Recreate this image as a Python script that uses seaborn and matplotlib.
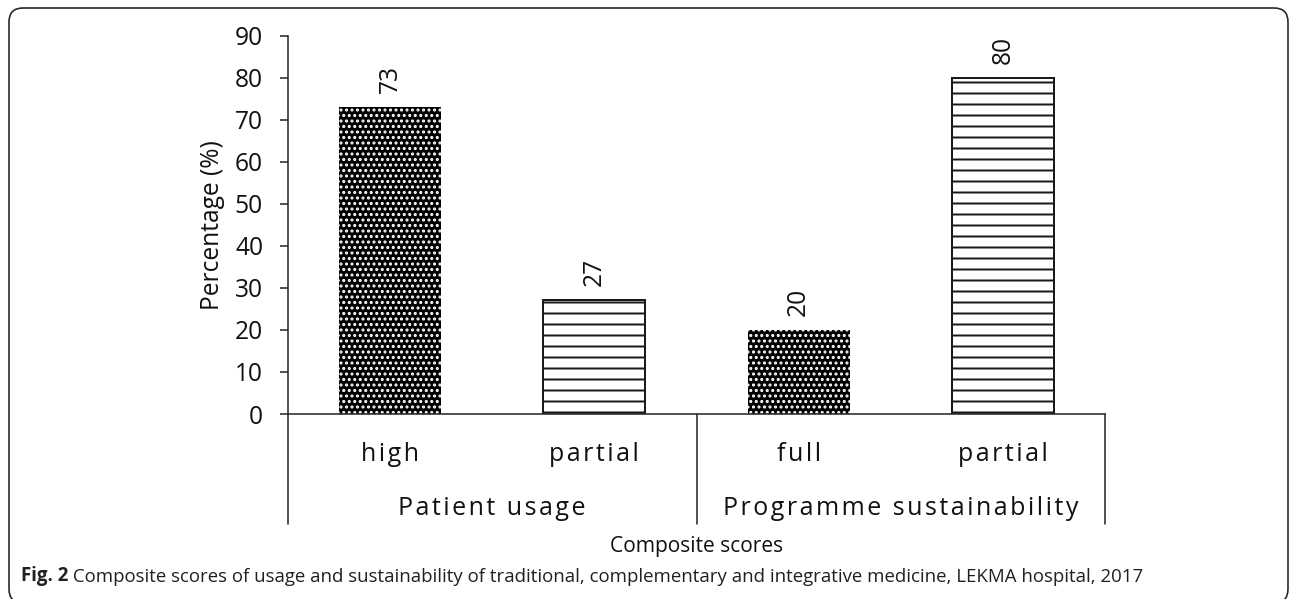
import pandas as pd
import matplotlib
matplotlib.use('Agg')
import matplotlib.pyplot as plt
import seaborn as sns
from matplotlib.patches import FancyBboxPatch
from matplotlib.lines import Line2D
from matplotlib.transforms import IdentityTransform, blended_transform_factory

# data
groups = ['Patient usage', 'Patient usage', 'Programme sustainability', 'Programme sustainability']
levels = ['high', 'partial', 'full', 'partial']
values = [73, 27, 20, 80]
fills = ['dots', 'lines', 'dots', 'lines']
yticks = list(range(0, 100, 10))
caption_bold = 'Fig. 2'
caption = (' Composite scores of usage and sustainability of traditional, complementary and '
           'integrative medicine, LEKMA hospital, 2017')

df = pd.DataFrame({'group': groups, 'level': levels, 'value': values, 'fill': fills})
df['key'] = df['group'] + ':' + df['level']

# dpi chosen so the hatch cells come out close to the original pattern spacing
DPI = 132
W, H = 1295, 599
def pt(px):
    return px * 72.0 / DPI

sns.set_theme(style='white')
plt.rcParams['font.family'] = ['Open Sans', 'DejaVu Sans']
plt.rcParams['hatch.linewidth'] = pt(2.0)

HAIR = '\u200a'
def spaced(s):
    return HAIR.join(s)

ink = '#2b2b2b'
fig = plt.figure(figsize=(W / DPI, H / DPI), dpi=DPI)
ax = fig.add_axes([288 / W, 1 - 414 / H, 817 / W, 378.5 / H])

sns.barplot(data=df, x='key', y='value', hue='fill',
            palette={'dots': 'black', 'lines': 'white'},
            width=0.5, dodge=False, legend=False, ax=ax)

for cont, lvl in zip(ax.containers, ['dots', 'lines']):
    for bar in cont:
        if lvl == 'dots':
            bar.set_facecolor('black')
            bar.set_edgecolor('white')
            bar.set_linewidth(0)
            bar.set_hatch('....')
        else:
            bar.set_facecolor('white')
            bar.set_edgecolor('#1a1a1a')
            bar.set_linewidth(pt(2.0))
            bar.set_hatch('--')
    ax.bar_label(cont, rotation=90, padding=pt(14), fontsize=pt(24.5), color='#111111')

ax.set_ylim(0, 90)
ax.set_xlim(-0.5, 3.5)
ax.set_yticks(yticks)
ax.set_xticks(range(len(levels)))
ax.set_xticklabels([spaced(l) for l in levels])
ax.tick_params(axis='y', direction='out', length=pt(8), width=pt(1.6), pad=pt(17),
               labelsize=pt(24.5), color=ink, left=True, labelcolor='#111111')
ax.tick_params(axis='x', length=0, pad=pt(28), labelsize=pt(25), labelcolor='#111111')
ax.set_xlabel('')
ax.set_ylabel('Percentage (%)', fontsize=pt(24.5), labelpad=pt(10), color='#111111')

for side in ['top', 'right']:
    ax.spines[side].set_visible(False)
for side in ['left', 'bottom']:
    ax.spines[side].set_color(ink)
    ax.spines[side].set_linewidth(pt(1.6))

# category dividers below the axis
trans = blended_transform_factory(ax.transData, ax.transAxes)
low = -110 / 378.5
xl = ax.get_xlim()
for xd in [xl[0], 1.5, xl[1]]:
    ax.add_line(Line2D([xd, xd], [0, low], transform=trans, color=ink,
                       lw=pt(1.6), clip_on=False))

# group labels
for g in dict.fromkeys(groups):
    pos = df.index[df['group'] == g].to_numpy().mean()
    ax.text(pos, -101 / 378.5, spaced(g), transform=trans, ha='center', va='baseline',
            fontsize=pt(25), color='#111111')

ax.text(1.5, -138 / 378.5, 'Composite scores', transform=trans, ha='center',
        va='baseline', fontsize=pt(21), color='#111111')

# caption
t1 = fig.text(21 / W, 1 - 581 / H, caption_bold, weight='bold',
              va='baseline', fontsize=pt(18.6), color='#231f20')
ax.annotate(caption, xy=(1, 0), xycoords=t1, va='bottom', ha='left',
            fontsize=pt(18.6), color='#231f20', annotation_clip=False)

# rounded frame
frame = FancyBboxPatch((9, -4), 1279, 595, boxstyle='round,pad=0,rounding_size=14',
                       transform=IdentityTransform(), fill=False, lw=pt(1.6),
                       edgecolor='#222222')
fig.add_artist(frame)

fig.savefig('out.png', dpi=DPI)
